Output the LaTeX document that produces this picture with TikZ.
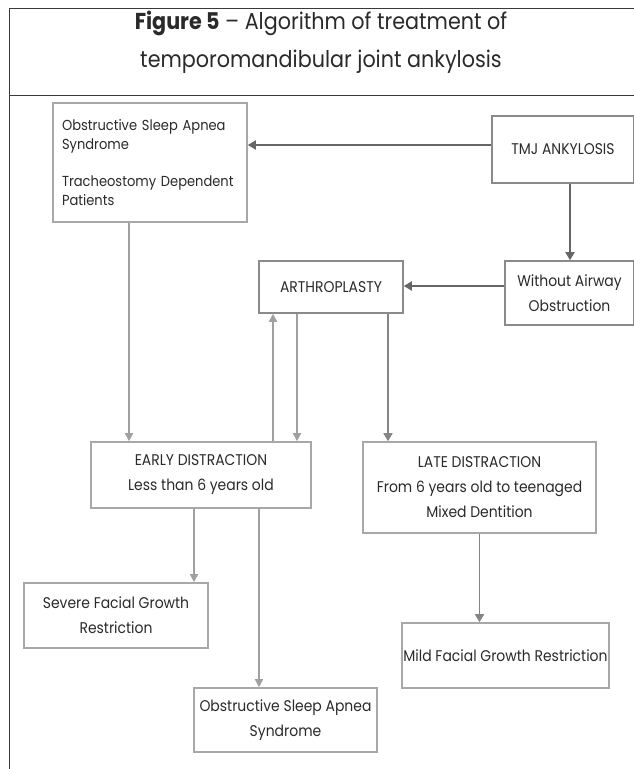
\documentclass[tikz,border=0pt]{standalone}
\usepackage{fontspec}
\setmainfont{Poppins}[FakeStretch=0.9]
\usetikzlibrary{arrows.meta}
\definecolor{frame}{HTML}{3A3A3A}
\definecolor{boxlight}{HTML}{A8A8A8}
\definecolor{boxdark}{HTML}{8A8A8A}
\definecolor{arrdark}{HTML}{666666}
\definecolor{arrmid}{HTML}{858585}
\definecolor{arrlight}{HTML}{A0A0A0}
\definecolor{txt}{HTML}{2A2A2A}
\tikzset{
  x=1pt, y=1pt,
  box/.style={draw=boxlight, line width=1.6pt, rectangle, inner sep=0pt, align=center,
    text=txt, font=\fontsize{15.5}{25}\selectfont},
  darkbox/.style={box, draw=boxdark},
  arrD/.style={draw=arrdark, line width=1.8pt, -{Triangle[width=9pt,length=8pt]}},
  arrM/.style={draw=arrmid, line width=1.6pt, -{Triangle[width=9pt,length=8pt]}},
  arrL/.style={draw=arrlight, line width=1.5pt, -{Triangle[width=8pt,length=8pt]}},
}
\begin{document}
\begin{tikzpicture}
\useasboundingbox (0,0) rectangle (634,-769);
\fill[white] (0,0) rectangle (634,-769);
% frame
\draw[frame, line width=1pt] (9,-769) -- (9,-8) -- (634,-8);
\draw[frame, line width=1pt] (9,-95) -- (634,-95);
\node[text=txt, align=center, font=\fontsize{23}{38}\selectfont] (title) at (321,-42)
  {\textbf{Figure 5} – Algorithm of treatment of\\temporomandibular joint ankylosis};
% boxes
\node[box, minimum width=194, minimum height=119, text width=176, align=left,
  font=\fontsize{14.5}{19}\selectfont] (A) at (150,-162.5)
  {\mbox{Obstructive Sleep Apnea}\\Syndrome\\[18pt]\mbox{Tracheostomy Dependent}\\Patients};
\node[darkbox, minimum width=142, minimum height=67] (B) at (563,-149.5) {TMJ ANKYLOSIS};
\node[darkbox, minimum width=129, minimum height=64] (C) at (569.5,-293) {Without Airway\\Obstruction};
\node[darkbox, minimum width=144, minimum height=52] (D) at (331,-287) {ARTHROPLASTY};
\node[box, minimum width=220, minimum height=66] (E) at (201,-475) {EARLY DISTRACTION\\Less than 6 years old};
\node[box, minimum width=233, minimum height=91] (F) at (479.5,-487.5) {LATE DISTRACTION\\From 6 years old to teenaged\\Mixed Dentition};
\node[box, minimum width=184, minimum height=65] (G) at (116,-615.5) {Severe Facial Growth\\Restriction};
\node[box, minimum width=183, minimum height=64] (H) at (285.5,-720) {Obstructive Sleep Apnea\\Syndrome};
\node[box, minimum width=207, minimum height=65] (I) at (505.5,-655.5) {Mild Facial Growth Restriction};
% connectors
\coordinate (p1) at ([yshift=4.5pt]B.west);
\draw[arrD] (p1) -- (p1 -| A.east);
\coordinate (p2) at ([xshift=7pt]B.south);
\draw[arrD] (p2) -- (p2 |- C.north);
\coordinate (p3) at ([yshift=7pt]C.west);
\draw[arrD] (p3) -- (p3 -| D.east);
\coordinate (p4) at ([xshift=-21pt]A.south);
\draw[arrL] (p4) -- (p4 |- E.north);
\coordinate (p5) at ([xshift=-58pt]D.south);
\draw[arrL] (p5 |- E.north) -- (p5);
\coordinate (p6) at ([xshift=-34pt]D.south);
\draw[arrL] (p6) -- (p6 |- E.north);
\coordinate (p7) at ([xshift=57pt]D.south);
\draw[arrM] (p7) -- (p7 |- F.north);
\coordinate (p8) at ([xshift=-7pt]E.south);
\draw[arrL] (p8) -- (p8 |- G.north);
\coordinate (p9) at ([xshift=58pt]E.south);
\draw[arrL] (p9) -- (p9 |- H.north);
\coordinate (p10) at (F.south);
\draw[arrM] (p10) -- (p10 |- I.north);
\end{tikzpicture}
\end{document}
